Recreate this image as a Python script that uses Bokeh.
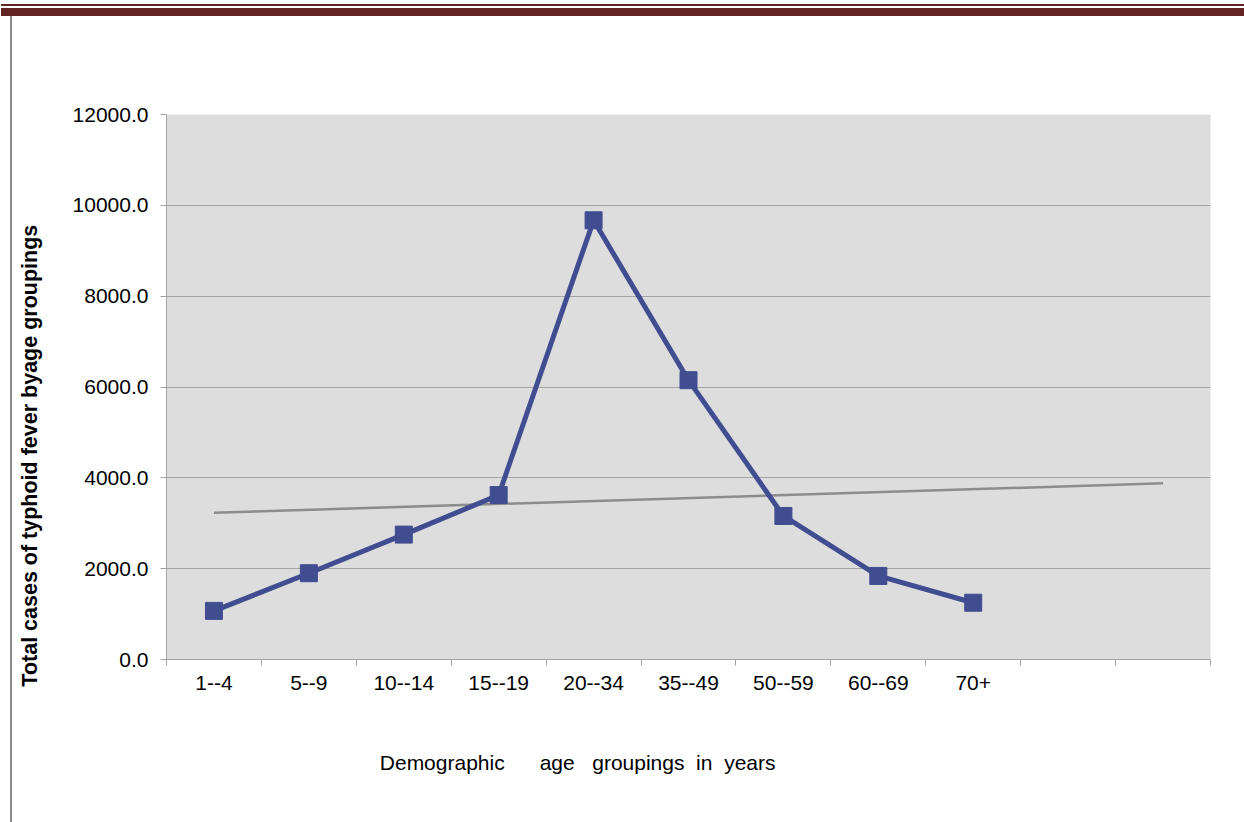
import numpy as np
from bokeh.plotting import figure
from bokeh.models import FixedTicker, PrintfTickFormatter, Range1d, Div
from bokeh.layouts import column, row
from bokeh.embed import file_html
from bokeh.resources import INLINE

# ---- data ----
categories = ["1--4", "5--9", "10--14", "15--19", "20--34", "35--49", "50--59", "60--69", "70+"]
n_slots = 11  # category slots on the axis (two trailing empty slots)
cases = [1070, 1900, 2750, 3620, 9670, 6150, 3160, 1840, 1250]
y_ticks = [0, 2000, 4000, 6000, 8000, 10000, 12000]
NB = "\u00a0"
x_title = "Demographic" + NB * 6 + "age" + NB * 3 + "groupings" + NB * 2 + "in" + NB * 2 + "years"
y_title = "Total cases of typhoid fever byage groupings"

FONT = "Liberation Sans"
LINE_COL = "#404d91"

pos = np.arange(1, len(categories) + 1)
coef = np.polyfit(pos, cases, 1)
trend_x = np.array([1, n_slots])
trend_y = np.polyval(coef, trend_x)

p = figure(width=1232, height=806, output_backend="svg", toolbar_location=None,
           x_range=Range1d(0.5, n_slots + 0.5), y_range=Range1d(0, 12000),
           min_border_left=154, min_border_right=34, min_border_top=98, min_border_bottom=163)
p.title.visible = False
p.background_fill_color = "#dddddd"
p.border_fill_color = "white"
p.outline_line_color = None

p.xgrid.visible = False
p.ygrid.ticker = FixedTicker(ticks=y_ticks)
p.ygrid.grid_line_color = "#a3a3a3"
p.ygrid.grid_line_width = 1

# y axis
ya = p.yaxis[0]
ya.ticker = FixedTicker(ticks=y_ticks)
ya.formatter = PrintfTickFormatter(format="%.1f")
ya.axis_line_color = "#a3a3a3"
ya.major_tick_line_color = "#a3a3a3"
ya.major_tick_in = 0
ya.major_tick_out = 6
ya.minor_tick_line_color = None
ya.major_label_standoff = 12
ya.major_label_text_font = FONT
ya.major_label_text_font_size = "21px"
ya.major_label_text_color = "black"
# label sits low on the axis in the reference: trailing non-breaking spaces shift it
ya.axis_label = y_title + NB * 23
ya.axis_label_standoff = 28
ya.axis_label_text_font = FONT
ya.axis_label_text_font_size = "21.5px"
ya.axis_label_text_font_style = "bold"
ya.axis_label_text_color = "black"

# x axis
xa = p.xaxis[0]
xa.ticker = FixedTicker(ticks=[int(v) for v in pos],
                        minor_ticks=[float(v) for v in np.arange(0.5, n_slots + 1)])
xa.major_label_overrides = {int(i): c for i, c in zip(pos, categories)}
xa.axis_line_color = "#a3a3a3"
xa.major_tick_line_color = None
xa.major_tick_in = 0
xa.major_tick_out = 0
xa.minor_tick_line_color = "#a3a3a3"
xa.minor_tick_in = 0
xa.minor_tick_out = 6
xa.major_label_standoff = 10
xa.major_label_text_font = FONT
xa.major_label_text_font_size = "21px"
xa.major_label_text_color = "black"
# label sits left of centre in the reference: trailing non-breaking spaces shift it
xa.axis_label = x_title + NB * 38
xa.axis_label_standoff = 58
xa.axis_label_text_font = FONT
xa.axis_label_text_font_size = "21px"
xa.axis_label_text_font_style = "normal"
xa.axis_label_text_color = "black"

# series
p.line(trend_x, trend_y, line_width=2.5, line_color="#8c8c8c")
p.line(pos, cases, line_width=5, line_color=LINE_COL)
p.scatter(pos, cases, marker="square", size=17, fill_color=LINE_COL, line_color=LINE_COL)

header = Div(width=1244, height=16, margin=0, text=(
    '<div style="width:1244px;height:16px;position:relative;">'
    '<div style="position:absolute;left:1px;top:4px;width:1243px;height:2px;background:#622423"></div>'
    '<div style="position:absolute;left:1px;top:8px;width:1243px;height:8px;background:#622423"></div>'
    '</div>'))
leftline = Div(width=12, height=806, margin=0, text=(
    '<div style="width:12px;height:806px;position:relative;">'
    '<div style="position:absolute;left:10px;top:0px;width:2px;height:806px;background:#8c8c8c"></div>'
    '</div>'))

layout = column(header, row(leftline, p, spacing=0), spacing=0)

open("out.html", "w").write(file_html(layout, INLINE))
